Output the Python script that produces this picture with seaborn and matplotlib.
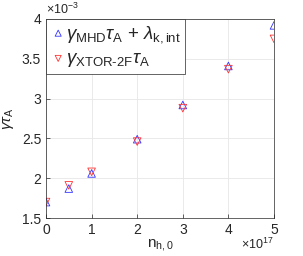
import matplotlib
matplotlib.use("Agg")
import matplotlib.pyplot as plt
from matplotlib.ticker import FuncFormatter
import seaborn as sns
import pandas as pd

# valeurs (x en 1e17, gamma*tau en 1e-3)
n_h0 = [0.0, 0.5, 1.0, 2.0, 3.0, 4.0, 5.0]
gamma_mhd = [1.70, 1.87, 2.06, 2.49, 2.92, 3.41, 3.92]
gamma_xtor = [1.70, 1.91, 2.08, 2.46, 2.88, 3.37, 3.75]

sns.set_style("ticks")
plt.rcParams["font.family"] = ["Liberation Sans", "DejaVu Sans"]
plt.rcParams["mathtext.fontset"] = "custom"
plt.rcParams["mathtext.rm"] = "Liberation Sans"
plt.rcParams["mathtext.it"] = "Liberation Sans:italic"

df = pd.DataFrame({"n": n_h0, "mhd": gamma_mhd, "xtor": gamma_xtor})

fig = plt.figure(figsize=(3.03, 2.56), dpi=100)
ax = fig.add_axes([46 / 303, 1 - 218 / 256, 228 / 303, 199 / 256])

sns.scatterplot(data=df, x="n", y="mhd", marker="^", s=30, facecolors="none",
                edgecolor="#3333ff", linewidth=0.6, ax=ax,
                label=r"$\gamma_{\rm MHD}\tau_{\rm A}$ + $\lambda_{\rm k,int}$")
sns.scatterplot(data=df, x="n", y="xtor", marker="v", s=30, facecolors="none",
                edgecolor="#ff3333", linewidth=0.6, ax=ax,
                label=r"$\gamma_{\text{XTOR-2F}}\tau_{\rm A}$")

ax.set_xlim(0, 5)
ax.set_ylim(1.5, 4)
ax.set_xticks([0, 1, 2, 3, 4, 5])
ax.set_yticks([1.5, 2, 2.5, 3, 3.5, 4])
fmt = FuncFormatter(lambda v, p: "%g" % v)
ax.xaxis.set_major_formatter(fmt)
ax.yaxis.set_major_formatter(fmt)
ax.grid(True, color="#e6e6e6", linewidth=0.6)
ax.tick_params(direction="in", labelsize=10, length=3, width=0.5, colors="#262626")
for sp in ax.spines.values():
    sp.set_linewidth(0.5)
    sp.set_color("#262626")

ax.text(0.0, 1.01, r"$\times10^{-3}$", transform=ax.transAxes, fontsize=9,
        ha="left", va="bottom", color="#262626")
ax.text(1.0, -0.095, r"$\times10^{17}$", transform=ax.transAxes, fontsize=9,
        ha="right", va="top", color="#262626")

ax.set_xlabel(r"n$_{\rm h,0}$", fontsize=11, labelpad=0)
ax.set_ylabel(r"$\gamma\tau_{\rm A}$", fontsize=11, labelpad=4)

leg = ax.legend(loc="upper left", fontsize=13.5, frameon=True, fancybox=False,
                handletextpad=0.0, handlelength=0.8, borderpad=0.25,
                labelspacing=0.3, borderaxespad=0.0, markerscale=0.8)
leg.get_frame().set_edgecolor("#262626")
leg.get_frame().set_linewidth(0.5)
leg.get_frame().set_alpha(1)

fig.savefig("out.png", dpi=100)
